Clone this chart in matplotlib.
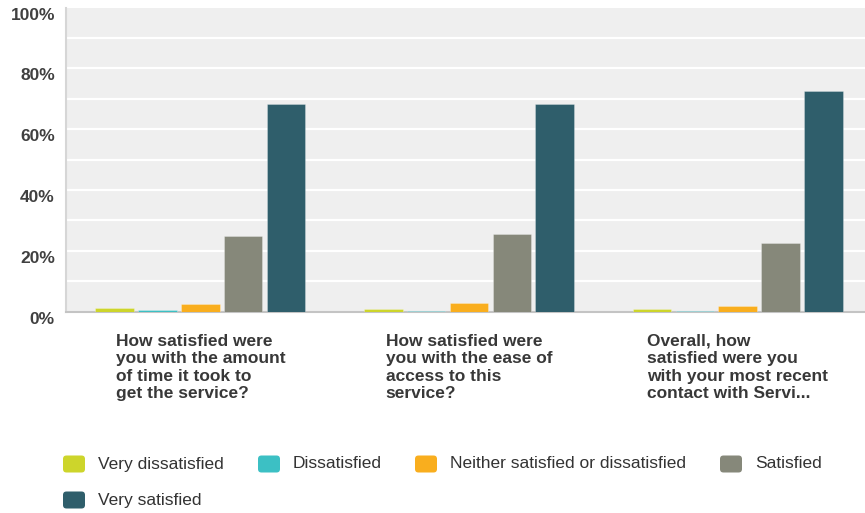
import matplotlib
matplotlib.use("Agg")
import matplotlib.pyplot as plt
import matplotlib.transforms as mtransforms
from matplotlib.patches import FancyBboxPatch
from matplotlib.ticker import FuncFormatter, MultipleLocator
import numpy as np

plt.rcParams['font.family'] = ['Liberation Sans', 'DejaVu Sans']

# Survey questions (x categories)
questions = [
    "How satisfied were\nyou with the amount\nof time it took to\nget the service?",
    "How satisfied were\nyou with the ease of\naccess to this\nservice?",
    "Overall, how\nsatisfied were you\nwith your most recent\ncontact with Servi...",
]

# Response categories and their percentages per question
responses = ["Very dissatisfied", "Dissatisfied",
             "Neither satisfied or dissatisfied", "Satisfied", "Very satisfied"]
very_dissatisfied = [1.2, 0.7, 0.7]
dissatisfied = [0.6, 0.3, 0.3]
neither = [2.4, 2.9, 1.8]
satisfied = [24.9, 25.6, 22.6]
very_satisfied = [68.3, 68.3, 72.4]

colors = ["#CDD52B", "#3CC0C4", "#F9AE1E", "#86887A", "#2F5E6B"]

W, H = 865, 513
fig = plt.figure(figsize=(W / 100, H / 100), dpi=100)
fig.patch.set_facecolor("white")

# Plot panel (extends slightly past the right edge of the canvas)
left, right, top, bottom = 66, 872, 7.5, 311.5
ax = fig.add_axes([left / W, 1 - bottom / H, (right - left) / W, (bottom - top) / H])
ax.set_facecolor("#EFEFEF")

series = [very_dissatisfied, dissatisfied, neither, satisfied, very_satisfied]
x = np.arange(len(questions))
step = 0.1594
width = 0.1434
for k, (vals, col) in enumerate(zip(series, colors)):
    ax.bar(x + (k - 2) * step, vals, width=width, color=col,
           edgecolor=(1, 1, 1, 0.3), linewidth=0.6, zorder=3)

ax.set_xlim(-0.5, 2.5)
ax.set_ylim(0, 100)
ax.yaxis.set_major_locator(MultipleLocator(20))
ax.yaxis.set_major_formatter(FuncFormatter(lambda v, p: f"{int(v)}%"))
for yv in range(10, 100, 10):
    ax.axhline(yv, color="white", linewidth=1.6, zorder=1)

ax.set_xticks([])
ax.tick_params(axis="y", which="both", length=0, pad=8,
               labelsize=12.5, labelcolor="#404040")
for lab in ax.get_yticklabels():
    lab.set_fontweight("bold")
    lab.set_transform(lab.get_transform() +
                      mtransforms.ScaledTranslation(0, -6 / 100, fig.dpi_scale_trans))

for side in ["top", "right"]:
    ax.spines[side].set_visible(False)
ax.spines["left"].set_color("#D6D6D6")
ax.spines["left"].set_linewidth(1.5)
ax.spines["bottom"].set_color("#C4C4C4")
ax.spines["bottom"].set_linewidth(1.5)

# Question labels below each group
trans = mtransforms.blended_transform_factory(ax.transData, fig.transFigure)
for xi, q in zip(x, questions):
    ax.text(xi, 1 - 334 / H, q, transform=trans, ha="center", va="top",
            multialignment="left", fontsize=12.5, fontweight="bold",
            color="#383838", linespacing=1.2)

# Legend with rounded swatches
legend_pos = [(63, 464), (258, 464), (415, 464), (720, 464), (63, 500)]
sw, sh = 22, 17
for (lx, ly), col, name in zip(legend_pos, colors, responses):
    patch = FancyBboxPatch(((lx) / W, 1 - (ly + sh / 2) / H), sw / W, sh / H,
                           boxstyle="round,pad=0,rounding_size=0.004",
                           transform=fig.transFigure, facecolor=col,
                           edgecolor="none", mutation_aspect=W / H)
    fig.patches.append(patch)
    fig.text((lx + 35) / W, 1 - ly / H, name, ha="left", va="center",
             fontsize=12.5, color="#333333")

fig.savefig("out.png", dpi=100, facecolor="white")
